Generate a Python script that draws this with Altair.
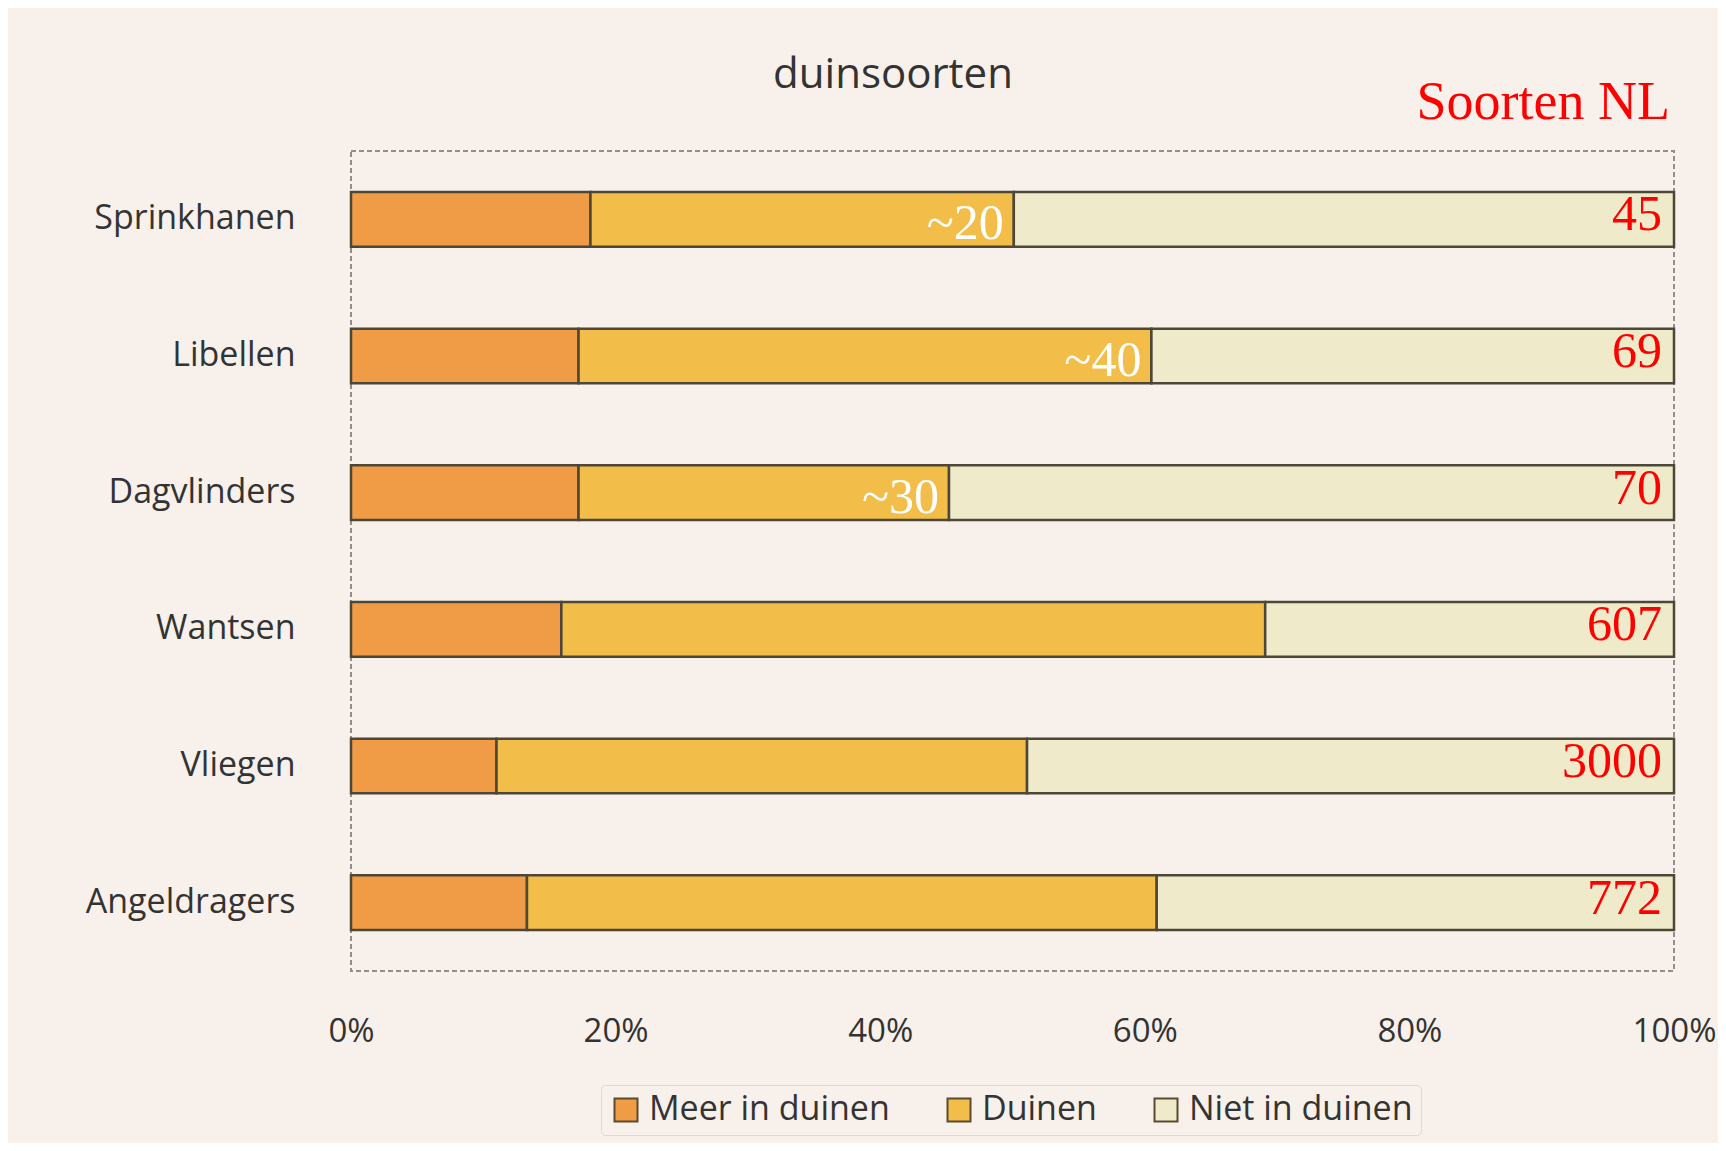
import altair as alt
import pandas as pd

categories = ["Sprinkhanen", "Libellen", "Dagvlinders", "Wantsen", "Vliegen", "Angeldragers"]
meer_in_duinen = [18.1, 17.2, 17.2, 15.9, 11.0, 13.3]
duinen = [32.0, 43.3, 28.0, 53.2, 40.1, 47.6]
niet_in_duinen = [49.9, 39.5, 54.8, 30.9, 48.9, 39.1]
soorten_nl = ["45", "69", "70", "607", "3000", "772"]
duin_labels = ["~20", "~40", "~30", "", "", ""]
series = ["Meer in duinen", "Duinen", "Niet in duinen"]
colors = ["#F09B45", "#F2BD48", "#EFEACA"]
x_ticks = [0, 20, 40, 60, 80, 100]
chart_title = "duinsoorten"
header_text = "Soorten NL"

rows = []
for i, c in enumerate(categories):
    start = 0.0
    for k, vals in enumerate([meer_in_duinen, duinen, niet_in_duinen]):
        v = vals[i]
        rows.append({"cat": c, "serie": series[k], "start": start, "end": start + v})
        start += v
df = pd.DataFrame(rows)

lab = pd.DataFrame({
    "cat": categories,
    "total": soorten_nl,
    "approx": duin_labels,
    "duin_end": [m + d for m, d in zip(meer_in_duinen, duinen)],
    "full": [100] * len(categories),
})
head = pd.DataFrame({"t": [header_text], "x": [100]})
ttl = pd.DataFrame({"t": [chart_title]})

SANS = "Open Sans"
SERIF = "Liberation Serif"
TXT = "#333333"

y_enc = alt.Y(
    "cat:N",
    sort=categories,
    scale=alt.Scale(paddingInner=0.6, paddingOuter=0.3),
    axis=alt.Axis(title=None, ticks=False, domain=False, labelFont=SANS,
                  labelFontSize=34, labelColor=TXT, labelPadding=56, labelLimit=0),
)

bars = alt.Chart(df).mark_bar(stroke="#4d4738", strokeWidth=2.5).encode(
    x=alt.X("start:Q", scale=alt.Scale(domain=[0, 100], nice=False),
            axis=alt.Axis(values=x_ticks, labelExpr="datum.value + '%'", title=None,
                          grid=False, ticks=False, domain=False, labelFont=SANS,
                          labelFontSize=33, labelColor=TXT, labelPadding=44,
                          labelFlush=False)),
    x2="end:Q",
    y=y_enc,
    color=alt.Color("serie:N", scale=alt.Scale(domain=series, range=colors),
                    legend=alt.Legend(orient="none", legendX=250, legendY=934,
                                      direction="horizontal", title=None,
                                      symbolType="square", symbolSize=529,
                                      symbolStrokeColor="#5a4a30", symbolStrokeWidth=2,
                                      symbolOpacity=1, labelLimit=0,
                                      labelFont=SANS, labelFontSize=34, labelColor=TXT,
                                      labelOffset=6, columnPadding=52,
                                      strokeColor="#e2d8d2", padding=8, cornerRadius=4)),
)

totals = alt.Chart(lab).mark_text(align="right", baseline="middle", dx=-12, dy=-4,
                                  font=SERIF, fontSize=50, color="#FF0000").encode(
    x=alt.X("full:Q", title=None),
    y=alt.Y("cat:N", sort=categories, title=None),
    text="total:N",
)

approx = alt.Chart(lab).mark_text(align="right", baseline="middle", dx=-10, dy=5,
                                  font=SERIF, fontSize=50, color="#FFFFFF").encode(
    x=alt.X("duin_end:Q", title=None),
    y=alt.Y("cat:N", sort=categories, title=None),
    text="approx:N",
)

header = alt.Chart(head).mark_text(align="right", baseline="alphabetic", dx=-4,
                                   font=SERIF, fontSize=54, color="#FF0000").encode(
    x=alt.X("x:Q", title=None),
    y=alt.value(-32),
    text="t:N",
)

title_mark = alt.Chart(ttl).mark_text(align="center", baseline="alphabetic",
                                      font=SANS, fontSize=42, color=TXT).encode(
    x=alt.value(542),
    y=alt.value(-63),
    text="t:N",
)

chart = alt.layer(bars, totals, approx, header, title_mark).properties(
    width=1323,
    height=820,
    autosize=alt.AutoSizeParams(type="none"),
    padding={"left": 343, "top": 143, "right": 44, "bottom": 172},
).configure(
    background="#F8F0EA",
).configure_view(
    stroke="#8f8f8f", strokeWidth=2, strokeDash=[5, 3],
)

chart.save("out.html", embed_options={"renderer": "svg", "actions": False})
